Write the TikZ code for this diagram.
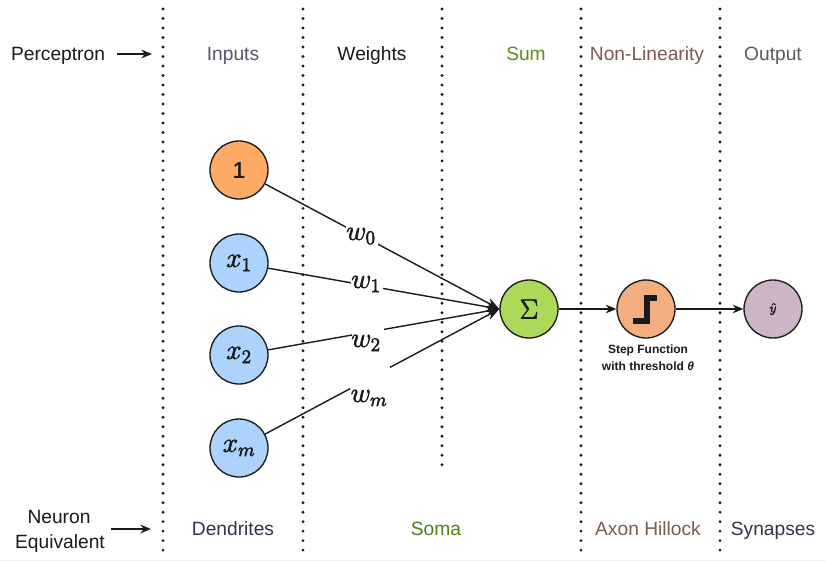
\documentclass[tikz,border=0pt]{standalone}
\usepackage{fontspec}
\setmainfont{Liberation Sans}
\usetikzlibrary{arrows.meta}
\newcommand{\heavier}[2]{\special{pdf:code q 2 Tr #1 w}#2\special{pdf:code Q}}
\definecolor{ink}{HTML}{1A1A1A}
\definecolor{orangefill}{HTML}{FFAB66}
\definecolor{bluefill}{HTML}{ABD3FB}
\definecolor{greenfill}{HTML}{ACD95A}
\definecolor{stepfill}{HTML}{F2AE7E}
\definecolor{outfill}{HTML}{CBB5C6}
\definecolor{inputcol}{HTML}{55566A}
\definecolor{sumcol}{HTML}{5E8F12}
\definecolor{nonlincol}{HTML}{7A5A50}
\definecolor{outcol}{HTML}{5E5560}
\definecolor{dendcol}{HTML}{33344A}
\definecolor{somacol}{HTML}{4F7F18}
\tikzset{
  neuron/.style={circle,draw=ink,line width=1pt,minimum size=43.5pt,inner sep=0pt,text=ink},
  edgeline/.style={draw=ink,line width=1.05pt},
  wire/.style={edgeline,-{Stealth[length=10pt,width=7.5pt]}},
  smallarrow/.style={edgeline,-{Stealth[length=8pt,width=6.5pt]}},
  guide/.style={draw=ink,line width=2.4pt,line cap=round,dash pattern=on 0pt off 7.12pt},
  heading/.style={font=\fontsize{14.4}{17}\selectfont,inner sep=0pt,text=ink,text height=10.4pt,text depth=2.9pt},
  gapbox/.style={fill=white,minimum width=24pt,minimum height=17pt,inner sep=0pt},
  weight/.style={inner sep=0pt,font=\huge,text=ink},
  steptext/.style={font=\fontsize{9}{11}\selectfont\bfseries,inner sep=0pt,text=ink}
}
\begin{document}
\begin{tikzpicture}[x=0.75pt,y=-0.75pt]
\useasboundingbox (0,0) rectangle (825,561);
\fill[white] (0,0) rectangle (825,561);
\fill[black!6] (0,559.5) rectangle (825,561);
% dotted guides
\foreach \n/\px/\ytop/\ybot in {a/163/9/557,b/303/9/557,c/442/9/466,d/581/9/557,e/720/9/557}{
  \coordinate (g\n t) at (\px,\ytop);
  \coordinate (g\n b) at (\px,\ybot);
  \draw[guide] (g\n t) -- (g\n b);
}
% nodes
\node[neuron,fill=orangefill,font=\fontsize{17}{19}\selectfont] (one) at (239,170) {\heavier{0.25}{1}};
\node[neuron,fill=bluefill,font=\huge] (x1) at (239,263) {\heavier{0.45}{$x_1$}};
\node[neuron,fill=bluefill,font=\huge] (x2) at (239,355) {\heavier{0.45}{$x_2$}};
\node[neuron,fill=bluefill,font=\huge] (xm) at (239,448) {\heavier{0.45}{$x_m$}};
\node[neuron,fill=greenfill,font=\huge] (sum) at (529,309) {\heavier{0.45}{$\Sigma$}};
\node[neuron,fill=stepfill] (step) at (646,309) {};
\node[neuron,fill=outfill,font=\normalsize] (out) at (773,309) {\heavier{0.25}{$\hat{y}$}};
% step icon
\coordinate (s1) at (633,321);
\coordinate (s2) at (647,321);
\coordinate (s3) at (647,298);
\coordinate (s4) at (657,298);
\draw[ink,line width=3.8pt,line join=miter] (s1) -- (s2) -- (s3) -- (s4);
% connectors
\draw[wire] (one) -- (sum.west);
\draw[wire] (x1) -- (sum.west);
\draw[wire] (x2) -- (sum.west);
\draw[wire] (xm) -- (sum.west);
\draw[smallarrow] (sum) -- (step);
\draw[smallarrow] (step) -- (out);
% weight labels
\node[gapbox] (w0gap) at (362,236) {};
\node[gapbox] (w1gap) at (366.5,284) {};
\node[gapbox] (w2gap) at (368,335) {};
\node[gapbox,minimum width=30pt] (wmgap) at (370,378) {};
\node[weight] (w0) at (361,236) {\heavier{0.45}{$w_0$}};
\node[weight] (w1) at (366,284) {\heavier{0.45}{$w_1$}};
\node[weight] (w2) at (366,343) {\heavier{0.45}{$w_2$}};
\node[weight] (wm) at (369,398) {\heavier{0.45}{$w_m$}};
% step caption
\node[steptext] (cap1) at (648,350) {Step Function};
\node[steptext] (cap2) at (648,366) {with threshold \textit{θ}};
% headings
\node[heading] (perc) at (58,55) {Perceptron};
\coordinate (percA) at (117,54);
\coordinate (percB) at (152,54);
\draw[smallarrow] (percA) -- (percB);
\node[heading,text=inputcol] (inputs) at (233,55) {Inputs};
\node[heading] (weights) at (372,55) {Weights};
\node[heading,text=sumcol] (sumh) at (526,55) {Sum};
\node[heading,text=nonlincol] (nonlin) at (647,55) {Non-Linearity};
\node[heading,text=outcol] (output) at (773,55) {Output};
\node[heading] (neur) at (59,518) {Neuron};
\node[heading] (equiv) at (60,543) {Equivalent};
\coordinate (neurA) at (111,529);
\coordinate (neurB) at (151,529);
\draw[smallarrow] (neurA) -- (neurB);
\node[heading,text=dendcol] (dend) at (233,530) {Dendrites};
\node[heading,text=somacol] (soma) at (436,530) {Soma};
\node[heading,text=nonlincol] (axon) at (648,530) {Axon Hillock};
\node[heading,text=dendcol] (syn) at (773,530) {Synapses};
\end{tikzpicture}
\end{document}
